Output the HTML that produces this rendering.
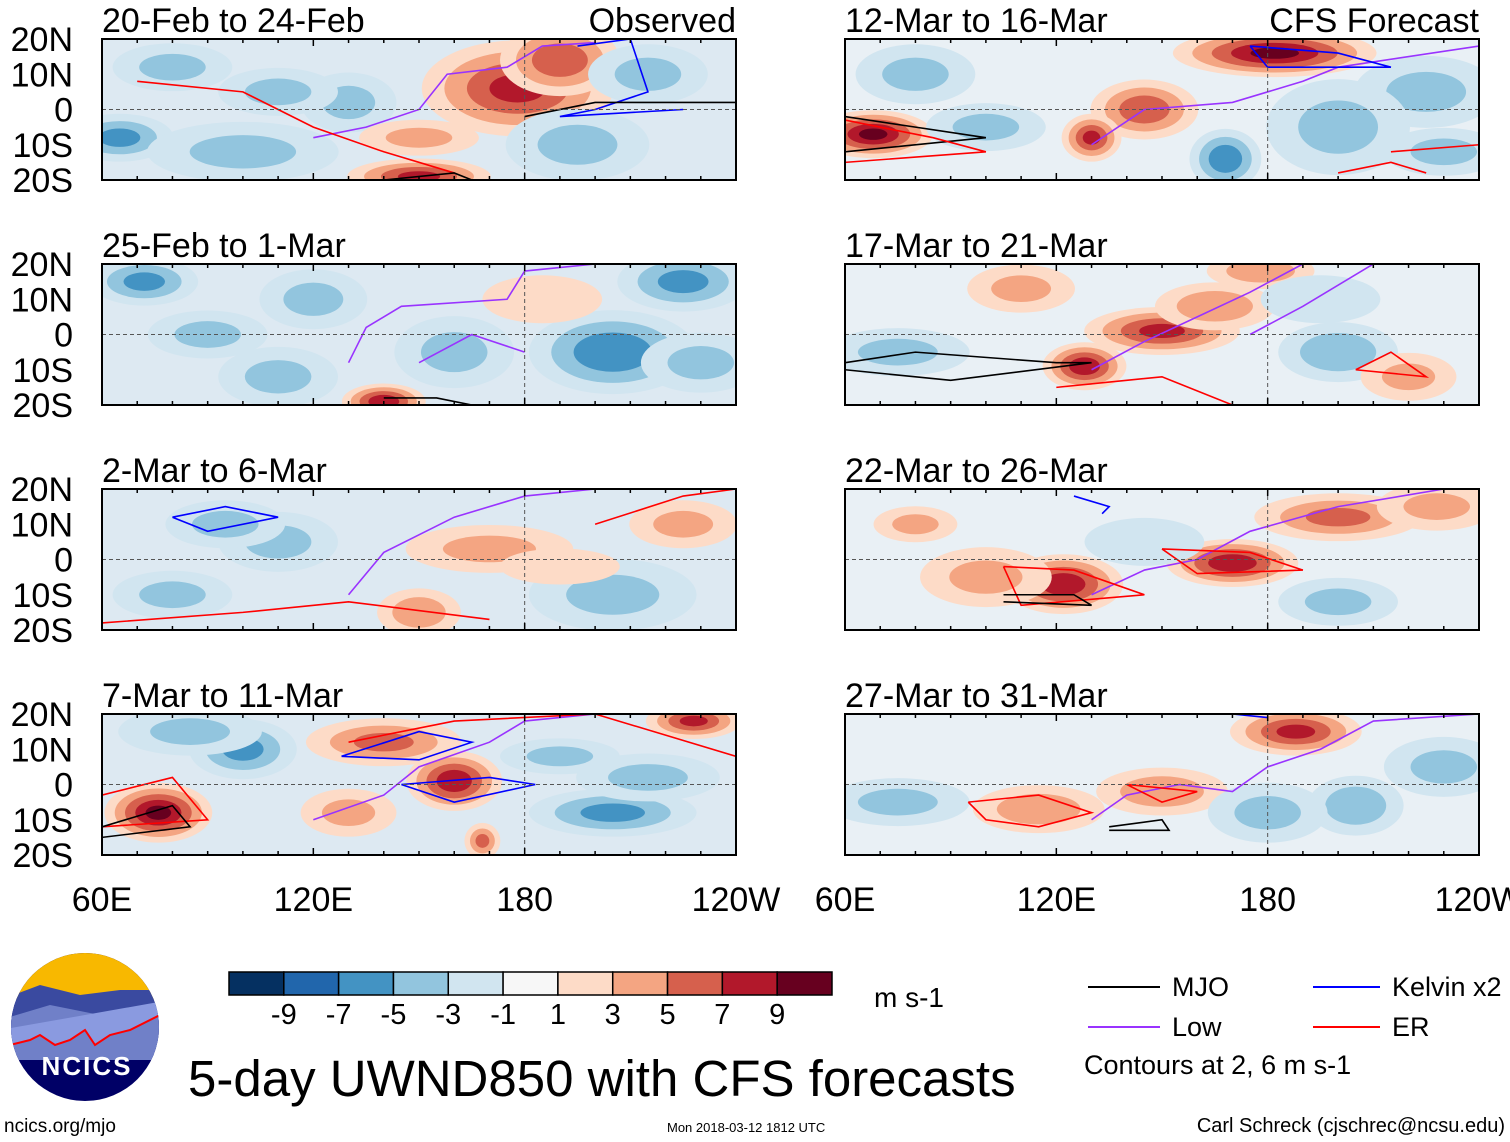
<!DOCTYPE html>
<html><head><meta charset="utf-8">
<style>
body{margin:0;background:#fff;width:1510px;height:1142px;overflow:hidden;font-family:"Liberation Sans",sans-serif;}
svg{position:absolute;left:0;top:0}
</style></head>
<body>
<svg id="chart" width="1510" height="1142" xmlns="http://www.w3.org/2000/svg"></svg>
<script>
// ---- data ----
const panelTitles=["20-Feb to 24-Feb","25-Feb to 1-Mar","2-Mar to 6-Mar","7-Mar to 11-Mar","12-Mar to 16-Mar","17-Mar to 21-Mar","22-Mar to 26-Mar","27-Mar to 31-Mar"];
const latTicks=["20N","10N","0","10S","20S"];
const latVals=[20,10,0,-10,-20];
const lonTicks=["60E","120E","180","120W"];
const lonVals=[60,120,180,240];
const cbLabels=["-9","-7","-5","-3","-1","1","3","5","7","9"];
const cbColors=["#053061","#2166ac","#4393c3","#92c5de","#d1e5f0","#f7f7f7","#fddbc7","#f4a582","#d6604d","#b2182b","#67001f"];
// anomaly blobs per panel: [lon, lat, amplitude m/s, lon radius deg, lat radius deg]
const blobs0=[[178,6,7,16,8],[190,14,6,10,6],[150,-19,7,12,3],[65,-8,-5,9,4],[100,-12,-3,16,5],[195,-10,-3,12,6],[215,10,-3,10,5],[80,12,-3,10,4],[130,2,-3,8,5],[150,-8,3,10,3],[110,5,-3,10,4]];
const blobs1=[[72,15,-5,9,4],[205,-5,-6,14,7],[225,15,-5,11,5],[140,-19,8,7,3],[110,-12,-3,10,5],[160,-5,-3,10,6],[120,10,-3,9,5],[90,0,-3,10,4],[185,10,2,10,4],[230,-8,-3,10,5]];
const blobs2=[[150,-15,4,7,4],[205,-10,-3,14,6],[110,5,-3,10,5],[170,3,3,14,4],[225,10,3,9,4],[80,-10,-3,10,4],[95,10,-3,10,4],[190,-2,2,10,3]];
const blobs3=[[76,-8,9,9,5],[160,1,8,8,5],[228,18,7,8,3],[140,12,5,13,4],[205,-8,-5,14,4],[190,8,-3,10,3],[100,10,-5,9,5],[168,-16,5,3,3],[215,2,-3,12,4],[85,15,-3,12,4],[130,-8,3,8,4]];
const blobs4=[[182,16,9,17,4],[68,-7,9,10,4],[145,0,6,9,5],[130,-8,7,5,4],[168,-14,-6,6,5],[80,10,-3,10,5],[225,5,-3,12,6],[100,-5,-3,10,4],[230,-12,-3,10,4],[200,-5,-3,12,8]];
const blobs5=[[150,1,7,13,4],[178,18,4,9,3],[128,-9,8,7,4],[200,-5,-4,10,5],[75,-5,-3,12,4],[110,13,3,9,4],[220,-12,3,8,4],[165,8,4,10,4],[195,10,-2,10,4]];
const blobs6=[[122,-7,8,10,5],[170,-1,8,11,4],[200,12,5,14,4],[228,15,3,10,4],[100,-5,3,11,5],[200,-12,-3,10,4],[80,10,3,7,3],[145,5,-2,10,4]];
const blobs7=[[188,15,7,11,4],[115,-7,4,11,4],[150,-2,4,11,4],[205,-6,-4,8,5],[75,-5,-3,12,4],[230,5,-3,10,5],[180,-8,-3,10,5]];
const allBlobs=[blobs0,blobs1,blobs2,blobs3,blobs4,blobs5,blobs6,blobs7];
// contour lines: [color, [[lon,lat],...]]
const lines0=[["#9933ff",[[120,-8],[135,-5],[150,0],[158,10],[175,12],[185,18],[200,19]]],["red",[[70,8],[100,5],[120,-5],[140,-12],[160,-18]]],["blue",[[195,18],[210,20],[215,5],[200,0],[190,-2],[225,0]]],["black",[[180,-2],[200,2],[240,2]]],["black",[[140,-20],[160,-18],[165,-20]]]];
const lines1=[["#9933ff",[[130,-8],[135,2],[145,8],[175,10],[180,18],[200,20]]],["#9933ff",[[150,-8],[165,0],[180,-5]]],["black",[[140,-18],[155,-18],[165,-20]]]];
const lines2=[["#9933ff",[[130,-10],[140,2],[160,12],[180,18],[200,20]]],["blue",[[80,12],[95,15],[110,12],[90,8],[80,12]]],["red",[[60,-18],[100,-15],[130,-12],[170,-17]]],["red",[[200,10],[225,18],[240,20]]]];
const lines3=[["#9933ff",[[120,-10],[140,-3],[150,5],[170,12],[180,18],[200,20]]],["blue",[[128,8],[150,15],[165,12],[150,7],[128,8]]],["blue",[[145,0],[170,2],[183,0],[160,-5],[145,0]]],["red",[[60,-3],[80,2],[90,-10],[60,-12]]],["red",[[130,12],[160,18],[200,20],[240,8]]],["black",[[60,-12],[80,-6],[85,-12],[60,-15]]]];
const lines4=[["#9933ff",[[130,-10],[145,0],[170,2],[190,8],[200,12],[240,18]]],["blue",[[175,18],[200,16],[215,12],[180,12],[175,18]]],["black",[[60,-2],[80,-5],[100,-8],[60,-12]]],["red",[[60,-3],[85,-8],[100,-12],[60,-15]]],["red",[[200,-18],[215,-15],[225,-18]]],["red",[[215,-12],[240,-10]]]];
const lines5=[["#9933ff",[[130,-10],[145,-2],[160,5],[175,12],[190,20],[210,20],[190,8],[175,0]]],["black",[[60,-8],[80,-5],[120,-8],[130,-8],[90,-13],[60,-10]]],["red",[[205,-10],[215,-5],[225,-12],[205,-10]]],["red",[[120,-15],[150,-12],[170,-20]]]];
const lines6=[["#9933ff",[[130,-10],[145,-3],[160,0],[175,8],[200,15],[230,20]]],["red",[[105,-2],[125,-3],[145,-10],[110,-13],[105,-2]]],["red",[[150,3],[175,2],[190,-3],[160,-4],[150,3]]],["black",[[105,-10],[125,-10],[130,-13],[105,-12]]],["blue",[[125,18],[135,15],[133,13]]]];
const lines7=[["#9933ff",[[130,-10],[140,-3],[155,0],[170,-2],[180,5],[195,10],[210,18],[240,20]]],["red",[[95,-5],[115,-3],[130,-8],[115,-12],[100,-10],[95,-5]]],["red",[[140,0],[160,-2],[150,-5],[140,0]]],["blue",[[170,20],[180,19]]],["black",[[135,-12],[150,-10],[152,-13],[135,-13]]]];
const allLines=[lines0,lines1,lines2,lines3,lines4,lines5,lines6,lines7];

// ---- layout ----
const NS="http://www.w3.org/2000/svg";
const svg=document.getElementById('chart');
const colX=[102,845], W=634, rowY=[39,264,489,714], H=141, SCALE=1.7;
function mk(tag,attrs,parent){const e=document.createElementNS(NS,tag);for(const k in attrs)e.setAttribute(k,attrs[k]);(parent||svg).appendChild(e);return e;}
function colorFor(v){const i=Math.max(0,Math.min(10,Math.floor((v+11)/2)));return cbColors[i];}

for(let p=0;p<8;p++){
  const c=p<4?0:1, r=p%4, x0=colX[c], y0=rowY[r];
  const xs=lon=>x0+(lon-60)/180*W;
  const ys=lat=>y0+(20-lat)/40*H;
  const g=mk('g',{});
  
  
  const cid='clip'+p;
  const cp=mk('clipPath',{id:cid},g);mk('rect',{x:x0,y:y0,width:W,height:H},cp);
  const inner=mk('g',{'clip-path':'url(#'+cid+')'},g);
  mk('rect',{x:x0,y:y0,width:W,height:H,fill:c?'#e9f0f5':'#dde9f2'},inner);
  allBlobs[p].forEach(b=>{
    const [lon,lat,amp,rx,ry]=b, n=Math.abs(amp), s=Math.sign(amp);
    for(let lvl=1;lvl<=n;lvl+=2){
      const f=1-(lvl-1)/(n+1.5);
      const el=mk('ellipse',{cx:xs(lon),cy:ys(lat),rx:SCALE*rx*f/180*W,ry:SCALE*ry*f/40*H,fill:colorFor(s*(lvl+1))},inner);
      
      
    }
  });
  allLines[p].forEach(l=>{
    const el=mk('polyline',{points:l[1].map(q=>xs(q[0])+','+ys(q[1])).join(' '),fill:'none',stroke:l[0],'stroke-width':1.6},inner);
    
    
  });
  mk('line',{x1:x0,x2:x0+W,y1:ys(0),y2:ys(0),stroke:'#555','stroke-dasharray':'4,3','stroke-width':1},g);
  mk('line',{x1:xs(180),x2:xs(180),y1:y0,y2:y0+H,stroke:'#555','stroke-dasharray':'4,3','stroke-width':1},g);
  mk('rect',{x:x0,y:y0,width:W,height:H,fill:'none',stroke:'#000','stroke-width':2},g);
  for(let lon=60;lon<=240;lon+=10){mk('line',{x1:xs(lon),x2:xs(lon),y1:y0,y2:y0+(lon%60?4:7),stroke:'#000','stroke-width':1.5},g);mk('line',{x1:xs(lon),x2:xs(lon),y1:y0+H,y2:y0+H-(lon%60?4:7),stroke:'#000','stroke-width':1.5},g);}
  const t=mk('text',{x:x0,y:y0-7,'font-size':34},g);t.textContent=panelTitles[p];
  
  if(p===0){const o=mk('text',{x:x0+W,y:y0-7,'font-size':34,'text-anchor':'end'},g);o.textContent='Observed';}
  if(p===4){const o=mk('text',{x:x0+W,y:y0-7,'font-size':34,'text-anchor':'end'},g);o.textContent='CFS Forecast';}
  if(c===0){latTicks.forEach((s,i)=>{const e=mk('text',{x:73,y:ys(latVals[i])+12,'font-size':34,'text-anchor':'end'},g);e.textContent=s;});}
  if(r===3){lonTicks.forEach((s,i)=>{const e=mk('text',{x:xs(lonVals[i]),y:911,'font-size':34,'text-anchor':'middle'},g);e.textContent=s;});}
}
// colorbar
const cb=mk('g',{});
const bw=(832-229)/11;
cbColors.forEach((col,i)=>mk('rect',{x:229+i*bw,y:972,width:bw,height:23,fill:col,stroke:'#000','stroke-width':1.5},cb));
cbLabels.forEach((s,i)=>{const e=mk('text',{x:229+(i+1)*bw,y:1024,'font-size':29,'text-anchor':'middle'},cb);e.textContent=s;});
</script>
<svg width="1510" height="1142" style="pointer-events:none">
  <g>
    <defs><clipPath id="lc"><circle cx="85" cy="1027" r="74"/></clipPath></defs>
    <g clip-path="url(#lc)">
      <rect x="0" y="950" width="170" height="160" fill="#000066"/>
      <rect x="0" y="950" width="170" height="50" fill="#f8b800"/>
      <polygon points="0,1000 40,985 80,995 120,990 170,990 170,1060 0,1060" fill="#3a4aa0"/>
      <polygon points="0,1020 50,1005 100,1015 170,1000 170,1060 0,1060" fill="#7080c8"/>
      <polygon points="0,1045 30,1040 40,1035 55,1045 70,1040 85,1030 95,1045 110,1035 130,1030 160,1015 170,1010 170,1000 0,1030" fill="#8a9ae0"/>
      <polyline points="10,1045 30,1040 40,1035 55,1045 70,1040 85,1030 95,1045 110,1035 130,1030 160,1015" fill="none" stroke="red" stroke-width="2"/>
    </g>
    <text x="87" y="1075" font-size="26" font-weight="bold" fill="#fff" text-anchor="middle" letter-spacing="2">NCICS</text>
  </g>
  <text x="4" y="1132" font-size="19">ncics.org/mjo</text>
  <text x="874" y="1007" font-size="28">m s-1</text>
  <text x="188" y="1096" font-size="51">5-day UWND850 with CFS forecasts</text>
  <text x="667" y="1132" font-size="13">Mon 2018-03-12 1812 UTC</text>
  <text x="1505" y="1132" font-size="20" text-anchor="end">Carl Schreck (cjschrec@ncsu.edu)</text>
  <g>
    <line x1="1088" x2="1160" y1="987" y2="987" stroke="#000" stroke-width="2"/><text x="1172" y="996" font-size="27">MJO</text>
    <line x1="1088" x2="1160" y1="1027" y2="1027" stroke="#9933ff" stroke-width="2"/><text x="1172" y="1036" font-size="27">Low</text>
    <line x1="1313" x2="1380" y1="987" y2="987" stroke="blue" stroke-width="2"/><text x="1392" y="996" font-size="27">Kelvin x2</text>
    <line x1="1313" x2="1380" y1="1027" y2="1027" stroke="red" stroke-width="2"/><text x="1392" y="1036" font-size="27">ER</text>
    <text x="1084" y="1074" font-size="27">Contours at 2, 6 m s-1</text>
  </g>
</svg>
</body></html>
